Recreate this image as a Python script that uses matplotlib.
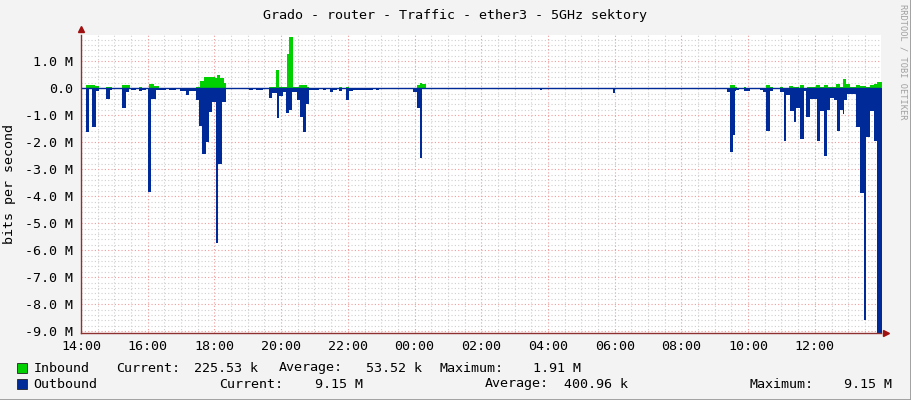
import matplotlib
matplotlib.use("Agg")
import matplotlib.pyplot as plt
import matplotlib.dates as mdates
import matplotlib.ticker as mticker
from matplotlib.lines import Line2D
import numpy as np

title = "Grado - router - Traffic - ether3 - 5GHz sektory"
start = np.datetime64("2024-05-01T14:00")

# change points: minutes after 14:00 and value in M bit/s, held until the next point
in_min = [0, 8.5, 15.7, 24.7, 32.5, 45.7, 56.5, 74.5, 87.7, 104.5, 110.5, 121.9, 131, 140.5,
          207.7, 213.7, 220.9, 240.7, 244.9, 249.7, 256.9, 261.7,
          338.5, 350.5, 356.5, 369.7, 374.5, 380.5, 392.5, 405.7, 410.5,
          464.5, 469.3, 476.5, 482.5, 603.7, 609.7, 613.3, 620.5,
          1166.5, 1176.1, 1179.7, 1191.7, 1196.5, 1232.5, 1239.7, 1244.5, 1256.5, 1262.5,
          1272.7, 1280.5, 1290.7, 1293.7, 1299.7, 1305.7, 1322.5, 1328.5, 1335.7, 1342.9,
          1358.5, 1364.5, 1370.5, 1376.5, 1382.5, 1394.5, 1401.7, 1412.5, 1418.5, 1426.9, 1431.7]
in_val = [0, 0.10, 0.12, 0.08, 0, 0.05, 0, 0.11, 0, 0.05, 0, 0.15, 0.08, 0,
          0.06, 0.28, 0.40, 0.37, 0.48, 0.37, 0.20, 0,
          0.05, 0.68, 0.05, 1.27, 1.91, 0.05, 0.10, 0.06, 0,
          0.04, 0, 0.05, 0, 0.10, 0.21, 0.16, 0,
          0.12, 0.05, 0, 0.04, 0, 0.12, 0.03, 0, 0.03, 0,
          0.07, 0.05, 0, 0.10, 0, 0.04, 0.12, 0.05, 0.10, 0.05,
          0.15, 0.06, 0.33, 0.15, 0.04, 0.12, 0.08, 0.05, 0.10, 0.15, 0.2255]

out_min = [0, 8.5, 14.5, 20.5, 26.5, 32.5, 45.7, 51.7, 56.5, 74.5, 80.5, 86.5, 90.7, 99.7,
           104.5, 110.5, 117.7, 120.7, 126.7, 134.5, 153.7, 158.5, 171.7, 177.7, 188.5, 194.5,
           207.7, 212.5, 218.5, 224.5, 230.5, 236.5, 242.5, 247.3, 253.3, 261.7,
           302.5, 308.5, 314.5, 326.5, 338.5, 343.3, 351.7, 356.5, 362.5, 368.5, 373.3, 379.3,
           387.7, 393.7, 399.7, 404.5, 410.5, 428.5, 434.5, 440.5, 447.7, 452.5, 459.7, 463.3,
           469.3, 476.5, 481.3, 489.7, 513.7, 524.5, 530.5, 536.5, 596.5, 603.7, 609.7, 614,
           826, 830, 957, 961,
           1161.7, 1167.7, 1172.5, 1176.1, 1178.5, 1183.3, 1191.7, 1202.5, 1220.5, 1226.5,
           1232.5, 1238.5, 1244.5, 1256.5, 1263.7, 1268.5, 1274.5, 1281.7, 1286.5, 1293.7,
           1299.7, 1304.5, 1310.5, 1323.7, 1328.5, 1335.7, 1341.7, 1347.7, 1354.9, 1359.7,
           1364.5, 1370.5, 1372.9, 1377.7, 1394.5, 1401.7, 1407.7, 1412.5, 1418.5, 1425.7, 1431.7]
out_val = [0, -1.64, 0, -1.42, -0.12, 0, -0.40, -0.05, 0, -0.72, -0.16, 0, -0.05, 0,
           -0.12, -0.05, 0, -3.83, -0.41, -0.06, 0, -0.07, 0, -0.10, -0.27, -0.10,
           -0.45, -1.40, -2.44, -1.98, -0.90, -0.50, -5.75, -2.80, -0.50, 0,
           -0.06, 0, -0.08, 0, -0.38, -0.18, -1.12, -0.30, -0.15, -0.93, -0.80, -0.15,
           -0.43, -1.05, -1.64, -0.60, -0.08, 0, -0.06, 0, -0.16, -0.06, 0, -0.12,
           0, -0.43, -0.12, -0.05, -0.08, 0, -0.08, 0, -0.15, -0.75, -2.60, 0,
           -0.05, 0, -0.18, 0,
           -0.15, -2.38, -1.72, -0.10, -0.05, 0, -0.12, 0, -0.06, -0.15,
           -1.57, -0.10, 0, -0.15, -1.94, -0.25, -0.85, -1.25, -0.75, -1.87,
           -0.10, -1.05, -0.40, -1.94, -0.85, -2.50, -0.80, -0.35, -0.45, -1.60,
           -0.80, -0.95, -0.45, -0.20, -1.42, -3.87, -8.58, -1.82, -0.83, -1.94, -9.15]

in_color = "#00CF00"
out_color = "#002A97"

legend_in = ["Inbound", "Current:", "225.53 k", "Average:", "53.52 k", "Maximum:", "1.91 M"]
legend_out = ["Outbound", "Current:", "9.15 M", "Average:", "400.96 k", "Maximum:", "9.15 M"]


def to_time(mins):
    secs = (np.array(mins + [1440]) * 60).round().astype("int64")
    return start + secs.astype("timedelta64[s]")


def to_vals(vals):
    return np.array(vals + [vals[-1]])


W, H = 911, 400
fig = plt.figure(figsize=(W / 100, H / 100), dpi=100, facecolor="#F3F3F3")
ax = fig.add_axes([81 / W, (H - 333) / H, 800 / W, 298 / H])
ax.set_facecolor("white")

mono = "DejaVu Sans Mono"
fs = 9.6

ax.fill_between(to_time(out_min), 0, to_vals(out_val), step="post", color=out_color, lw=0, zorder=3)
ax.fill_between(to_time(in_min), 0, to_vals(in_val), step="post", color=in_color, lw=0, zorder=3)
ax.axhline(0, color=out_color, lw=1, zorder=4)

ax.set_xlim(start, start + np.timedelta64(1439, "m"))
ax.set_ylim(-9.07, 1.97)

ax.xaxis.set_major_locator(mdates.HourLocator(byhour=range(0, 24, 2)))
ax.xaxis.set_major_formatter(mdates.DateFormatter("%H:%M"))
ax.xaxis.set_minor_locator(mdates.MinuteLocator(byminute=[0, 30]))
ax.yaxis.set_major_locator(mticker.MultipleLocator(1))
ax.yaxis.set_minor_locator(mticker.MultipleLocator(0.2))
ax.yaxis.set_major_formatter(mticker.FuncFormatter(
    lambda v, p: "0.0" if abs(v) < 1e-9 else "%.1f M" % v))

ax.grid(True, which="minor", color="#CFCFCF", ls=(0, (1, 2)), lw=0.8, zorder=1)
ax.grid(True, which="major", color="#F29A9A", ls=(0, (1, 2)), lw=0.8, zorder=2)
ax.set_axisbelow(True)

ax.tick_params(which="both", length=0)
ax.tick_params(axis="y", pad=6)
ax.tick_params(axis="x", pad=5)
for lab in ax.get_xticklabels() + ax.get_yticklabels():
    lab.set_fontfamily(mono)
    lab.set_fontsize(fs)

for s in ["top", "right"]:
    ax.spines[s].set_visible(False)
for s in ["left", "bottom"]:
    ax.spines[s].set_color("#8E3030")
    ax.spines[s].set_linewidth(1)
    ax.spines[s].set_zorder(5)
ax.plot([0], [1.02], marker="^", color="#A01010", ms=4, transform=ax.transAxes, clip_on=False)
ax.plot([1.006], [0], marker=">", color="#A01010", ms=4, transform=ax.transAxes, clip_on=False)

ax.set_ylabel("bits per second", fontfamily=mono, fontsize=fs, va="center")
ax.yaxis.set_label_coords(-71 / 800, 0.5)

fig.text(455 / W, 1 - 15 / H, title, ha="center", va="center", fontfamily=mono, fontsize=fs)
fig.text(903 / W, 1 - 62 / H, "RRDTOOL / TOBI OETIKER", rotation=270, ha="center", va="center",
         fontfamily=mono, fontsize=6.2, color="#A0A0A0")

# legend rows
row_y = [368, 384]
xs_in = [33.7, 116.2, 193.5, 279, 366, 440, 533]
xs_out = [33.7, 219.6, 315, 485, 563.6, 749.5, 843.7]
for y, color, labels, xs in [(row_y[0], in_color, legend_in, xs_in),
                             (row_y[1], out_color, legend_out, xs_out)]:
    fig.patches.append(plt.Rectangle((17 / W, 1 - (y + 5) / H), 10 / W, 10 / H,
                                     transform=fig.transFigure, facecolor=color,
                                     edgecolor="#222222", lw=0.6))
    for x, lab in zip(xs, labels):
        fig.text(x / W, 1 - y / H, lab, ha="left", va="center", fontfamily=mono, fontsize=fs)

# frame
fig.add_artist(Line2D([0, 1], [0.5 / H, 0.5 / H], transform=fig.transFigure, color="#9A9A9A", lw=2))
fig.add_artist(Line2D([1 - 0.5 / W, 1 - 0.5 / W], [0, 1], transform=fig.transFigure, color="#9A9A9A", lw=2))

fig.savefig("out.png", dpi=100, facecolor=fig.get_facecolor())
